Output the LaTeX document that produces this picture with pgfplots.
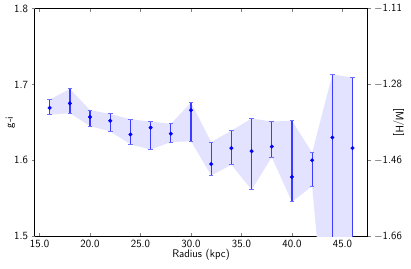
\documentclass[border=0pt]{standalone}
\usepackage{pgfplots}
\pgfplotsset{compat=1.18}
\usepackage{pgfplotstable}
\usepgfplotslibrary{fillbetween}
\renewcommand{\familydefault}{\sfdefault}
\definecolor{ebar}{RGB}{60,60,255}
\definecolor{ecap}{RGB}{110,110,255}
\pgfplotstableread{
x y hi lo
16 1.669 1.680 1.660
18 1.675 1.694 1.662
20 1.657 1.666 1.645
22 1.652 1.661 1.638
24 1.634 1.654 1.621
26 1.643 1.651 1.614
28 1.635 1.648 1.624
30 1.666 1.676 1.625
32 1.595 1.624 1.580
34 1.616 1.639 1.594
36 1.612 1.655 1.561
38 1.618 1.651 1.604
40 1.578 1.652 1.545
42 1.600 1.610 1.566
44 1.630 1.713 1.270
46 1.616 1.709 1.350
}\data
\pgfplotstablecreatecol[expr={\thisrow{hi}-\thisrow{y}}]{ep}{\data}
\pgfplotstablecreatecol[expr={\thisrow{y}-\thisrow{lo}}]{em}{\data}
\begin{document}
\begin{tikzpicture}
\begin{axis}[name=ax,
  scale only axis, width=333pt, height=227.5pt,
  xmin=14.5, xmax=47.5, ymin=1.5, ymax=1.8,
  axis y line*=left,
  xtick={15,20,...,45}, ytick={1.5,1.6,1.7,1.8},
  xticklabel style={/pgf/number format/.cd, fixed, fixed zerofill, precision=1},
  yticklabel style={/pgf/number format/.cd, fixed, fixed zerofill, precision=1},
  /pgf/number format/assume math mode=true,
  tick label style={font=\fontsize{11}{13}\selectfont},
  label style={font=\fontsize{11}{13}\selectfont},
  xtick align=inside, ytick align=outside,
  xtick pos=both,
  major tick length=3pt,
  xlabel={Radius (kpc)}, ylabel={g-i},
  xlabel style={yshift=5pt},
  ylabel style={at={(axis description cs:0,0.5)}, anchor=center, yshift=24pt},
  axis line style={black, line width=0.6pt},
]
\addplot[name path=up, draw=none, forget plot] table[x=x, y=hi] {\data};
\addplot[name path=lo, draw=none, forget plot] table[x=x, y=lo] {\data};
\addplot[fill=blue!11, draw=none] fill between[of=up and lo];
\addplot[only marks, color=blue, mark=*, mark size=1.8pt,
  error bars/.cd, y dir=both, y explicit,
  error bar style={color=ebar, line width=1.3pt},
  error mark options={rotate=90, mark size=2.3pt, color=ecap, line width=1pt}]
  table[x=x, y=y, y error plus=ep, y error minus=em] {\data};
\end{axis}
\begin{axis}[
  scale only axis, width=333pt, height=227.5pt,
  xmin=14.5, xmax=47.5, ymin=1.5, ymax=1.8,
  axis y line*=right, axis x line=none,
  ytick={1.5,1.6,1.7,1.8},
  yticklabels={$-$1.66,$-$1.46,$-$1.28,$-$1.11},
  tick label style={font=\fontsize{11}{13}\selectfont},
  label style={font=\fontsize{11}{13}\selectfont},
  ytick align=outside, major tick length=3pt,
  ylabel={[M/H]},
  ylabel style={at={(axis description cs:1,0.5)}, anchor=center, rotate=180, yshift=31pt},
  axis line style={black, line width=0.6pt},
]
\addplot[draw=none] coordinates {(20,1.6)};
\end{axis}
\path (ax.south west) ++(-34.5pt,-32pt) coordinate (bl);
\path (ax.north east) ++(43.3pt,8.5pt) coordinate (tr);
\pgfresetboundingbox
\useasboundingbox (bl) rectangle (tr);
\end{tikzpicture}
\end{document}
